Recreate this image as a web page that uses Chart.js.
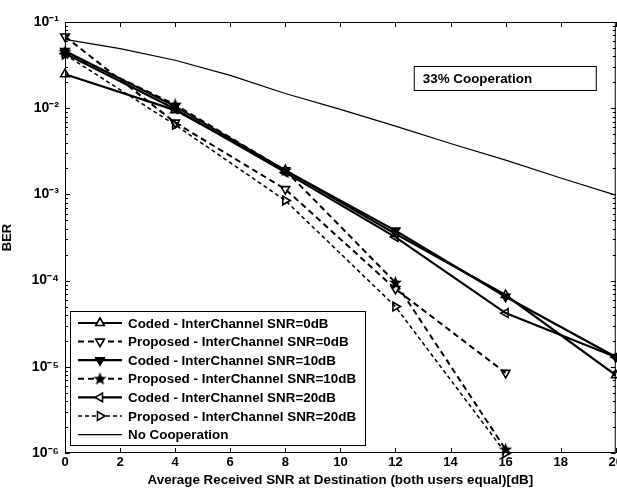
<!DOCTYPE html>
<html>
<head>
<meta charset="utf-8">
<script src="https://cdn.jsdelivr.net/npm/chart.js@4/dist/chart.umd.min.js"></script>
<style>
    html, body { margin: 0; padding: 0; background: #fff; overflow: hidden; }
    #wrap { position: absolute; left: 0; top: 0; width: 625px; height: 488px; }
</style>
</head>
<body>
<div id="wrap"><canvas id="berChart"></canvas></div>
<script>
// ---------- DATA ----------
const snr = [0, 4, 8, 12, 16, 20];
const snrNoCoop = [0, 2, 4, 6, 8, 10, 12, 14, 16, 18, 20];

const codedSnr0 = [0.0248, 0.0095, 0.0019, 0.00035, 0.000068, 0.000008];
const propSnr0 = [0.068, 0.0068, 0.00115, 0.00008, 0.0000085];
const codedSnr10 = [0.046, 0.0105, 0.0019, 0.00038, 0.000065, 0.000013];
const propSnr10 = [0.045, 0.011, 0.0019, 0.000095, 0.0000011];
const codedSnr20 = [0.043, 0.0098, 0.0018, 0.00032, 0.000042, 0.000013];
const propSnr20 = [0.042, 0.0064, 0.00085, 0.00005, 0.000001];
const noCoop = [0.063, 0.049, 0.036, 0.024, 0.0148, 0.0097, 0.0062, 0.0039, 0.0025, 0.00155, 0.00098];

const xTicks = [0, 2, 4, 6, 8, 10, 12, 14, 16, 18, 20];
const yTicks = [1e-6, 1e-5, 1e-4, 1e-3, 1e-2, 1e-1];
const yTickLabels = ["10\u207B\u2076", "10\u207B\u2075", "10\u207B\u2074", "10\u207B\u00B3", "10\u207B\u00B2", "10\u207B\u00B9"];

const FONT = "'Liberation Sans', Arial, sans-serif";

function pts(xs, ys) {
    return ys.map((y, i) => ({ x: xs[i], y: y }));
}

// filled pentagram marker
function makeStar() {
    const c = document.createElement("canvas");
    c.width = 15; c.height = 15;
    const g = c.getContext("2d");
    g.beginPath();
    for (let i = 0; i < 10; i++) {
        const r = i % 2 === 0 ? 7 : 2.9;
        const a = -Math.PI / 2 + i * Math.PI / 5;
        const px = 7.5 + r * Math.cos(a), py = 7.8 + r * Math.sin(a);
        if (i === 0) g.moveTo(px, py); else g.lineTo(px, py);
    }
    g.closePath();
    g.fillStyle = "#000";
    g.fill();
    return c;
}
const starImg = makeStar();

function series(label, ys, xs, style) {
    return Object.assign({
        label: label,
        data: pts(xs, ys),
        borderColor: "#000",
        backgroundColor: "rgba(0,0,0,0)",
        pointBorderColor: "#000",
        borderWidth: 2.2,
        pointRadius: 5,
        pointBorderWidth: 1.6,
        pointStyle: "triangle",
        tension: 0,
        clip: false
    }, style);
}

const datasets = [
    series("Coded - InterChannel SNR=0dB", codedSnr0, snr, { pointRotation: 0 }),
    series("Proposed - InterChannel SNR=0dB", propSnr0, snr, { borderDash: [6, 4], borderWidth: 2, pointRotation: 180 }),
    series("Coded - InterChannel SNR=10dB", codedSnr10, snr, { pointRotation: 180, pointBackgroundColor: "#000" }),
    series("Proposed - InterChannel SNR=10dB", propSnr10, snr, { borderDash: [6, 4], borderWidth: 2, pointStyle: starImg }),
    series("Coded - InterChannel SNR=20dB", codedSnr20, snr, { pointRotation: 270 }),
    series("Proposed - InterChannel SNR=20dB", propSnr20, snr, { borderDash: [4, 3], borderWidth: 1.5, pointRotation: 90 }),
    series("No Cooperation", noCoop, snrNoCoop, { borderWidth: 1.2, pointRadius: 0 })
];

// ---------- FRAME + INWARD TICKS ----------
const framePlugin = {
    id: "frame",
    afterDatasetsDraw(chart) {
        const ctx = chart.ctx, ca = chart.chartArea;
        const xs = chart.scales.x, ys = chart.scales.y;
        ctx.save();
        ctx.strokeStyle = "#000";
        ctx.lineWidth = 1;
        ctx.strokeRect(ca.left + 0.5, ca.top + 0.5, ca.right - ca.left - 1, ca.bottom - ca.top - 1);
        ctx.beginPath();
        xTicks.forEach(v => {
            const px = Math.round(xs.getPixelForValue(v)) + 0.5;
            ctx.moveTo(px, ca.bottom); ctx.lineTo(px, ca.bottom - 5);
            ctx.moveTo(px, ca.top); ctx.lineTo(px, ca.top + 5);
        });
        for (let d = -6; d <= -1; d++) {
            for (let k = 1; k <= 9; k++) {
                const v = k * Math.pow(10, d);
                if (v > 0.1 * 1.0001) continue;
                const py = Math.round(ys.getPixelForValue(v)) + 0.5;
                const len = k === 1 ? 5 : 3;
                ctx.moveTo(ca.left, py); ctx.lineTo(ca.left + len, py);
                ctx.moveTo(ca.right, py); ctx.lineTo(ca.right - len, py);
            }
        }
        ctx.stroke();
        ctx.restore();
    }
};

// ---------- LEGEND + ANNOTATION ----------
const legendPlugin = {
    id: "boxLegend",
    afterDraw(chart) {
        const ctx = chart.ctx, ca = chart.chartArea;
        ctx.save();

        // legend box, bottom left of the axes
        const bx = ca.left + 5, bh = 134, by = ca.bottom - bh - 8, bw = 295;
        ctx.fillStyle = "#fff";
        ctx.fillRect(bx, by, bw, bh);
        ctx.strokeStyle = "#000";
        ctx.lineWidth = 1;
        ctx.strokeRect(bx + 0.5, by + 0.5, bw, bh);

        ctx.font = "bold 13.4px " + FONT;
        ctx.textBaseline = "middle";
        chart.data.datasets.forEach((ds, i) => {
            const ry = by + 12 + i * 18.6;
            ctx.save();
            ctx.strokeStyle = "#000";
            ctx.lineWidth = ds.borderWidth;
            ctx.setLineDash(ds.borderDash || []);
            ctx.beginPath();
            ctx.moveTo(bx + 8, ry); ctx.lineTo(bx + 52, ry);
            ctx.stroke();
            ctx.restore();
            if (ds.pointRadius > 0) {
                ctx.save();
                ctx.strokeStyle = "#000";
                ctx.fillStyle = ds.pointBackgroundColor || "#fff";
                ctx.lineWidth = ds.pointBorderWidth;
                Chart.helpers.drawPoint(ctx, {
                    pointStyle: ds.pointStyle,
                    rotation: ds.pointRotation || 0,
                    radius: ds.pointRadius,
                    borderWidth: ds.pointBorderWidth
                }, bx + 30, ry);
                ctx.restore();
            }
            ctx.fillStyle = "#000";
            ctx.fillText(ds.label, bx + 58, ry + 1);
        });

        // "33% Cooperation" text box
        const ax = ca.right - 202, ay = ca.top + 44;
        ctx.fillStyle = "#fff";
        ctx.fillRect(ax, ay, 182, 24);
        ctx.strokeRect(ax + 0.5, ay + 0.5, 182, 24);
        ctx.fillStyle = "#000";
        ctx.fillText("33% Cooperation", ax + 9, ay + 13);

        ctx.restore();
    }
};

new Chart(document.getElementById("berChart").getContext("2d"), {
    type: "line",
    data: { datasets: datasets },
    options: {
        responsive: true,
        maintainAspectRatio: false,
        animation: false,
        layout: { padding: { top: 22, left: 0, right: 0, bottom: 0 } },
        plugins: {
            legend: { display: false },
            tooltip: { enabled: false }
        },
        scales: {
            x: {
                type: "linear",
                min: 0,
                max: 20,
                afterBuildTicks: scale => { scale.ticks = xTicks.map(v => ({ value: v })); },
                afterFit: scale => { scale.height = 35; },
                ticks: { color: "#000", padding: 2, maxRotation: 0, font: { family: FONT, size: 13, weight: "bold" } },
                grid: { display: false, drawTicks: false },
                border: { display: false },
                title: {
                    display: true,
                    text: "Average Received SNR at Destination (both users equal)[dB]",
                    color: "#000",
                    font: { family: FONT, size: 13.4, weight: "bold" },
                    padding: { top: 1, bottom: 0 }
                }
            },
            y: {
                type: "logarithmic",
                min: 1e-6,
                max: 1e-1,
                afterBuildTicks: scale => { scale.ticks = yTicks.map(v => ({ value: v })); },
                afterFit: scale => { scale.width = 65; },
                ticks: {
                    color: "#000",
                    padding: 6,
                    font: { family: FONT, size: 14, weight: "bold" },
                    callback: (v) => {
                        const i = yTicks.findIndex(t => Math.abs(t - v) / t < 1e-6);
                        return i >= 0 ? yTickLabels[i] : "";
                    }
                },
                grid: { display: false, drawTicks: false },
                border: { display: false },
                title: {
                    display: true,
                    text: "BER",
                    color: "#000",
                    font: { family: FONT, size: 13, weight: "bold" },
                    padding: { top: 0, bottom: 0 }
                }
            }
        }
    },
    plugins: [framePlugin, legendPlugin]
});
</script>
</body>
</html>
